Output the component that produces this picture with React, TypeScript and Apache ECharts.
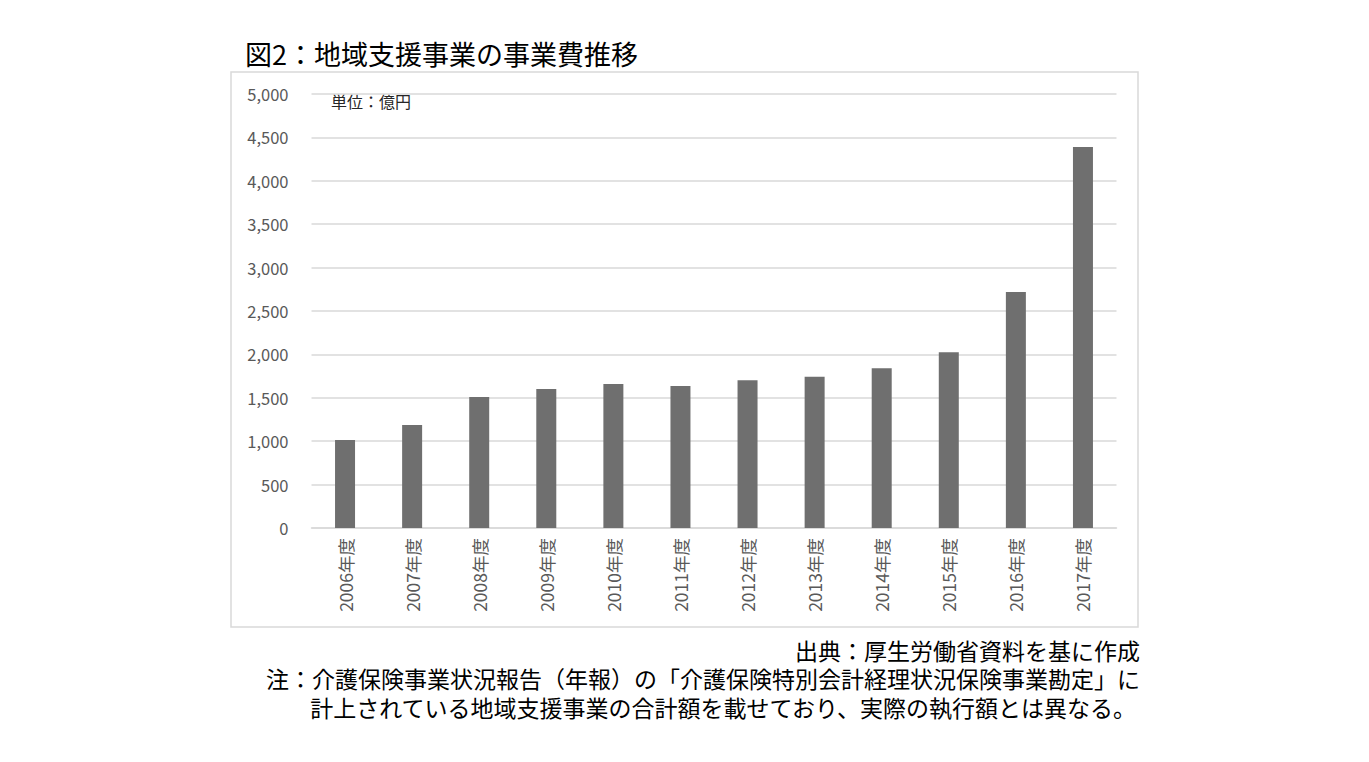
import React, { useEffect, useRef } from "react";
import * as echarts from "echarts";

const categories = [
  "2006年度", "2007年度", "2008年度", "2009年度", "2010年度", "2011年度",
  "2012年度", "2013年度", "2014年度", "2015年度", "2016年度", "2017年度",
];
const values = [1014, 1187, 1509, 1601, 1659, 1636, 1702, 1743, 1840, 2024, 2719, 4389];
const titleText = "図2：地域支援事業の事業費推移";
const unitText = "単位：億円";
const footLines = [
  "出典：厚生労働省資料を基に作成",
  "注：介護保険事業状況報告（年報）の「介護保険特別会計経理状況保険事業勘定」に",
  "計上されている地域支援事業の合計額を載せており、実際の執行額とは異なる。",
];

const FONT = '"Noto Sans CJK JP", "Noto Sans", sans-serif';
const FOOT_FONT = '"Liberation Sans", "Noto Sans CJK JP", sans-serif';

export default function App() {
  const ref = useRef<HTMLDivElement>(null);
  useEffect(() => {
    if (!ref.current) return;
    const chart = echarts.init(ref.current, null, { renderer: "svg" });
    const foot = (i: number, x: number, y: number) => ({
      type: "text",
      x,
      y,
      style: {
        text: footLines[i],
        font: `23px ${FOOT_FONT}`,
        lineHeight: 26,
        fill: "#000",
        textAlign: "right",
        textVerticalAlign: "middle",
      },
    });
    chart.setOption({
      animation: false,
      backgroundColor: "#ffffff",
      textStyle: { fontFamily: FONT },
      grid: { left: 311.5, right: 252.5, top: 94, bottom: 234, containLabel: false },
      xAxis: {
        type: "category",
        data: categories,
        axisLine: { lineStyle: { color: "#d9d9d9", width: 1.5 } },
        axisTick: { show: false },
        axisLabel: { rotate: 90, color: "#595959", fontSize: 17.5, margin: 10, fontFamily: FONT },
      },
      yAxis: {
        type: "value",
        min: 0,
        max: 5000,
        interval: 500,
        axisLine: { show: false },
        axisTick: { show: false },
        splitLine: { lineStyle: { color: "#d9d9d9", width: 1.5 } },
        axisLabel: {
          color: "#595959",
          fontSize: 16.5,
          margin: 23,
          fontFamily: FONT,
          formatter: (v: number) => v.toLocaleString("en-US"),
        },
      },
      series: [
        {
          type: "bar",
          data: values,
          barWidth: 20,
          itemStyle: { color: "#6f6f6f" },
        },
      ],
      graphic: [
        {
          type: "rect",
          shape: { x: 231, y: 72, width: 907, height: 555 },
          style: { fill: "none", stroke: "#d9d9d9", lineWidth: 1.5 },
          z: -1,
        },
        {
          type: "text",
          x: 245,
          y: 53,
          style: { text: titleText, font: `27px ${FONT}`, fill: "#000", textVerticalAlign: "middle" },
        },
        {
          type: "text",
          x: 331,
          y: 101,
          style: { text: unitText, font: `16px ${FONT}`, fill: "#262626", textVerticalAlign: "middle" },
        },
        foot(0, 1140, 652),
        foot(1, 1140, 680),
        foot(2, 1136, 709),
      ],
    });
    return () => chart.dispose();
  }, []);
  return (
    <div
      ref={ref}
      style={{ position: "fixed", left: 0, top: 0, width: 1369, height: 762, background: "#fff" }}
    />
  );
}
